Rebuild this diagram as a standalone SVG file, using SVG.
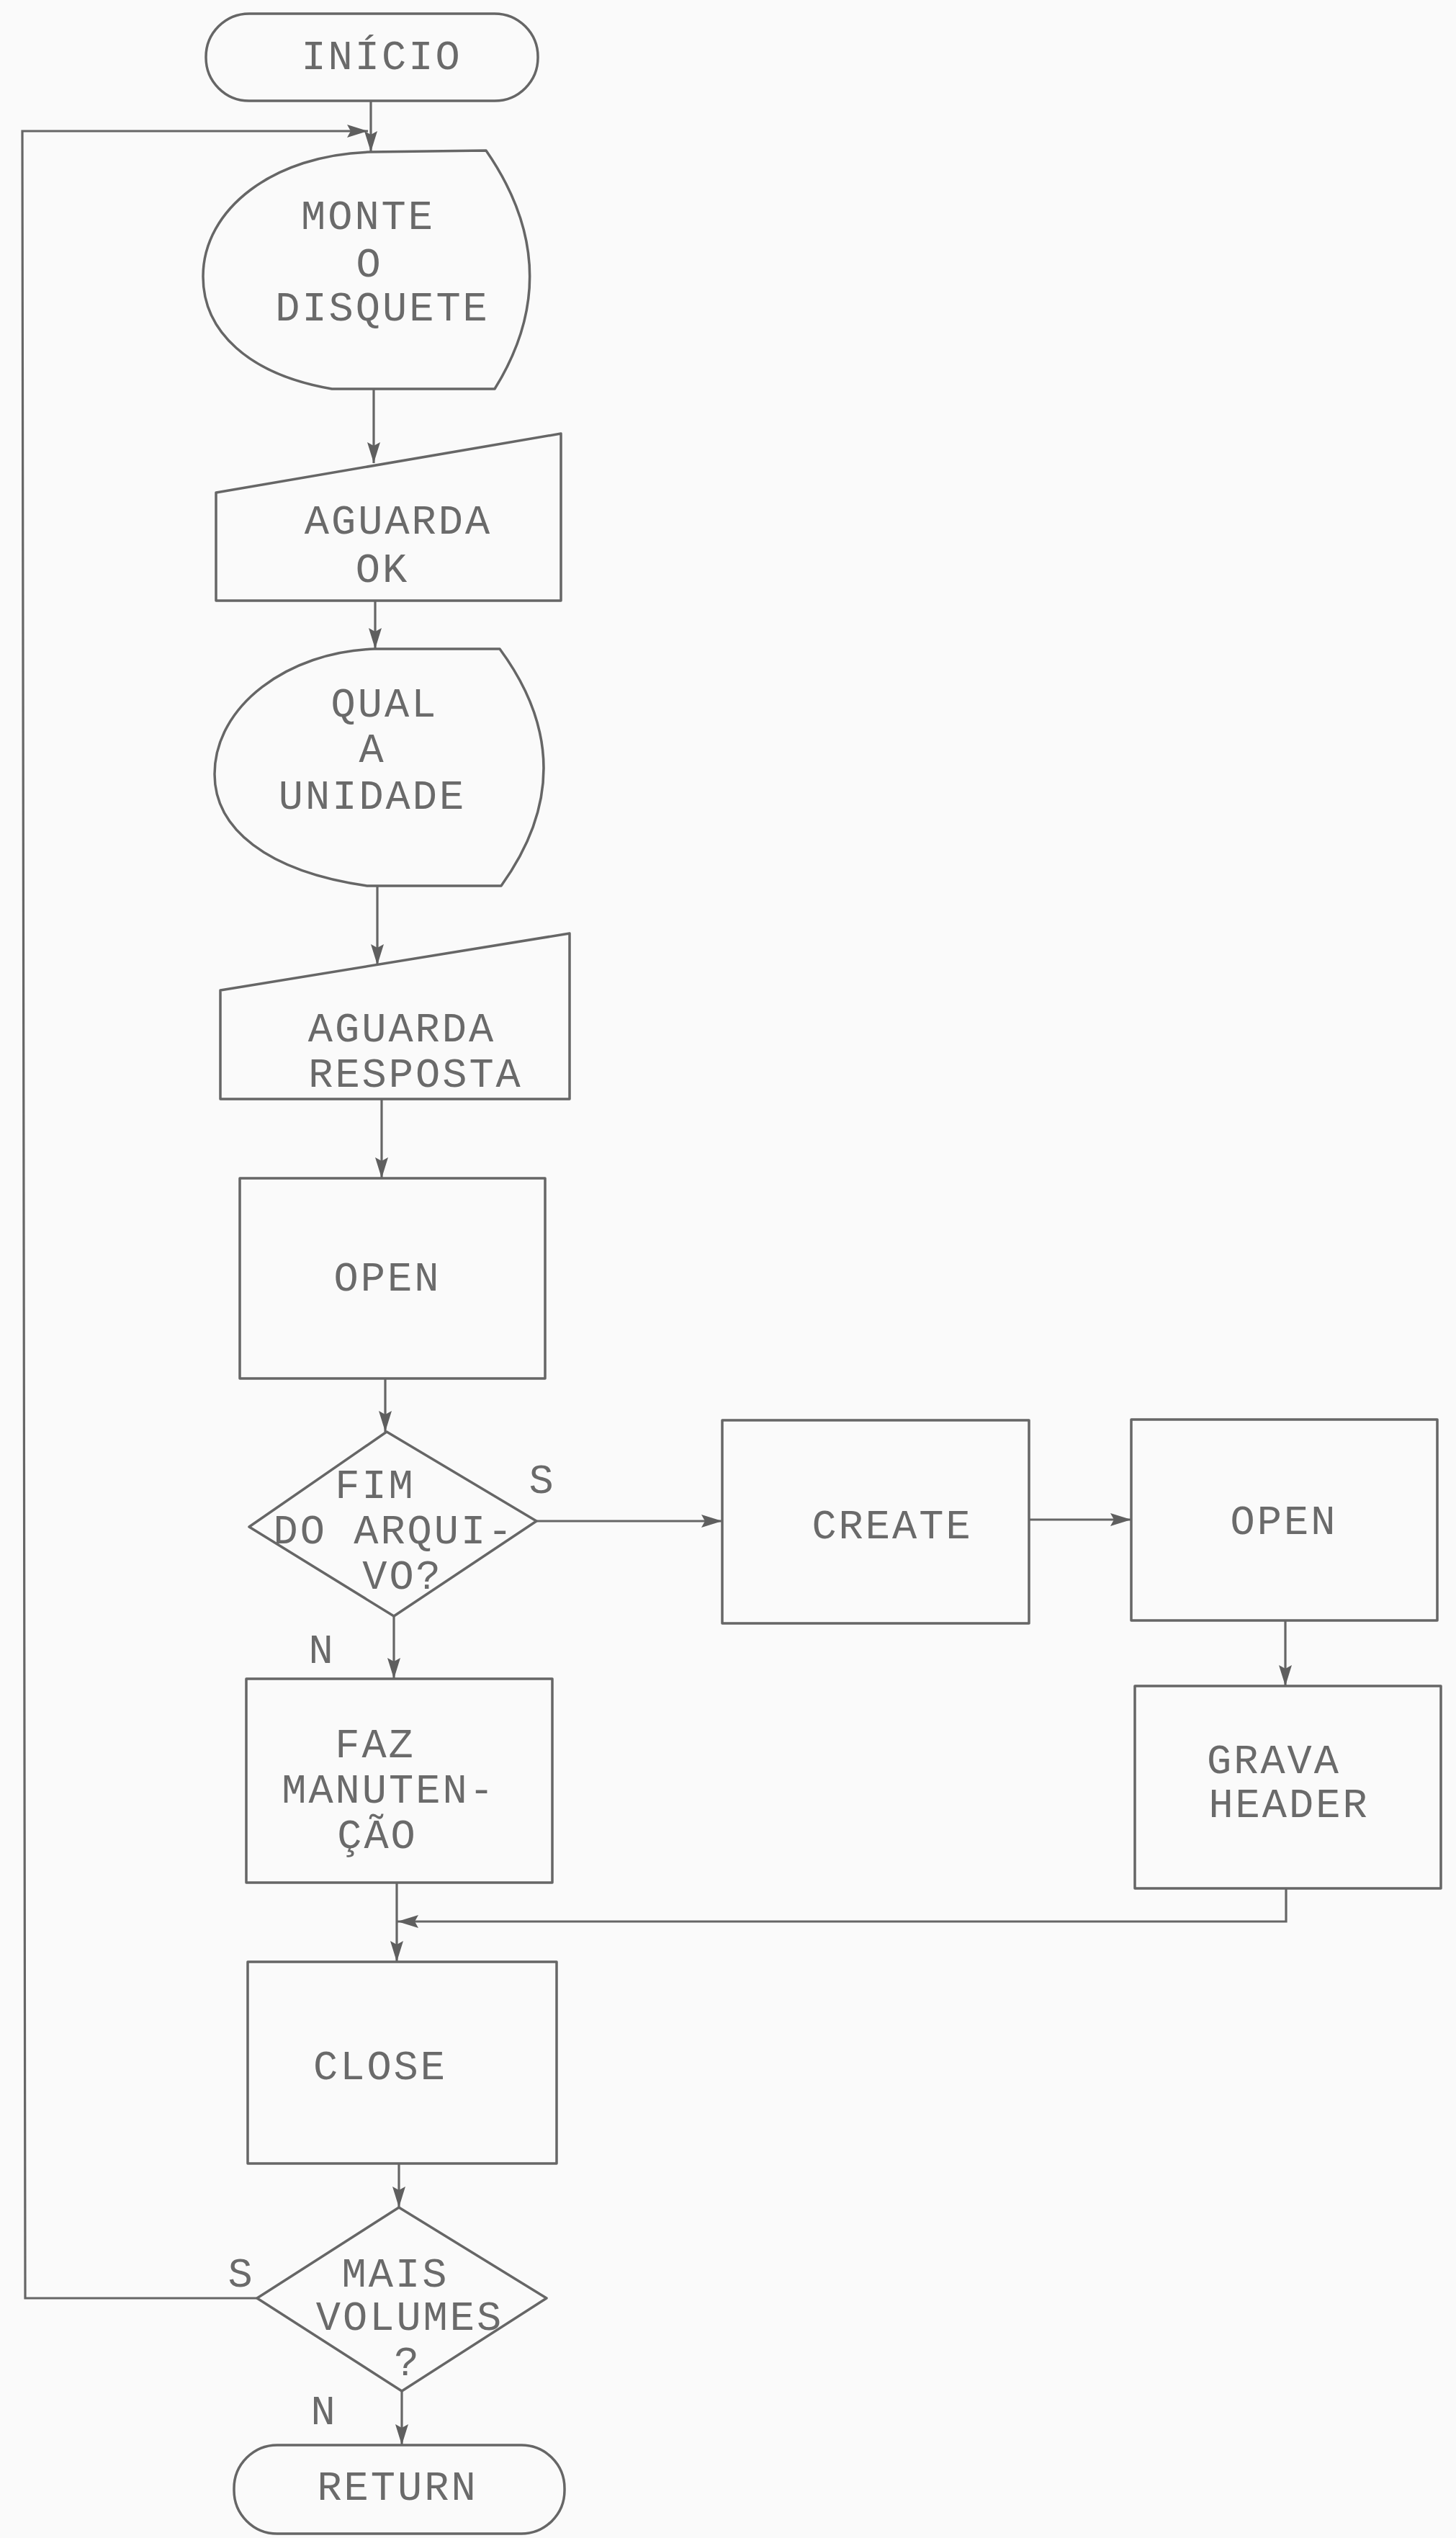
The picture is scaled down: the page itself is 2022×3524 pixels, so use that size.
<svg xmlns="http://www.w3.org/2000/svg" width="2022" height="3524" viewBox="0 0 2022 3524">
<defs>
<marker id="arr" markerUnits="userSpaceOnUse" markerWidth="30" markerHeight="24" viewBox="0 0 30 24" refX="29" refY="12" orient="auto">
<path d="M0,3 L29,12 L0,21 L5,12 Z" fill="#5f5f5f"/>
</marker>
<style>
.s{fill:none;stroke:#666;stroke-width:3.5;stroke-linejoin:round}
.c{fill:none;stroke:#666;stroke-width:3.2}
.t{font-family:"Liberation Mono","Courier New",monospace;font-size:57px;letter-spacing:3px;fill:#6a6a6a;text-anchor:middle}
</style>
</defs>
<rect width="2022" height="3524" fill="#fafafa"/>
<g id="connectors">
<line class="c" x1="515" y1="140" x2="515" y2="211" marker-end="url(#arr)"/>
<polyline class="c" points="357,3191 35,3191 31,182 511,182" marker-end="url(#arr)"/>
<line class="c" x1="519" y1="540" x2="519" y2="643" marker-end="url(#arr)"/>
<line class="c" x1="521" y1="834" x2="521" y2="901" marker-end="url(#arr)"/>
<line class="c" x1="524" y1="1230" x2="524" y2="1340" marker-end="url(#arr)"/>
<line class="c" x1="530" y1="1526" x2="530" y2="1636" marker-end="url(#arr)"/>
<line class="c" x1="535" y1="1914" x2="535" y2="1988" marker-end="url(#arr)"/>
<line class="c" x1="745" y1="2112" x2="1003" y2="2112" marker-end="url(#arr)"/>
<line class="c" x1="1429" y1="2110" x2="1571" y2="2110" marker-end="url(#arr)"/>
<line class="c" x1="1785" y1="2250" x2="1785" y2="2341" marker-end="url(#arr)"/>
<polyline class="c" points="1786,2622 1786,2668 552,2668" marker-end="url(#arr)"/>
<line class="c" x1="547" y1="2244" x2="547" y2="2331" marker-end="url(#arr)"/>
<line class="c" x1="551" y1="2614" x2="551" y2="2724" marker-end="url(#arr)"/>
<line class="c" x1="554" y1="3004" x2="554" y2="3065" marker-end="url(#arr)"/>
<line class="c" x1="558" y1="3320" x2="558" y2="3395" marker-end="url(#arr)"/>
</g>
<g id="inicio">
<rect class="s" x="286" y="19" width="461" height="121" rx="60"/>
<text class="t" x="530" y="96">INÍCIO</text>
</g>
<g id="monte">
<path class="s" d="M514,211 L675,209 Q790,375 687,540 L461,540 C345,520 282,460 282,384 C282,290 380,215 514,211 Z"/>
<text class="t" x="511" y="318">MONTE</text>
<text class="t" x="513" y="384">O</text>
<text class="t" x="531" y="445">DISQUETE</text>
</g>
<g id="aguarda-ok">
<polygon class="s" points="300,684 779,602 779,834 300,834"/>
<text class="t" x="553" y="741">AGUARDA</text>
<text class="t" x="531" y="808">OK</text>
</g>
<g id="qual">
<path class="s" d="M520,901 L694,901 Q815,1065 696,1230 L510,1230 C370,1210 298,1150 298,1075 C298,980 400,905 520,901 Z"/>
<text class="t" x="534" y="995">QUAL</text>
<text class="t" x="517" y="1058">A</text>
<text class="t" x="517" y="1123">UNIDADE</text>
</g>
<g id="aguarda-resposta">
<polygon class="s" points="306,1375 791,1296 791,1526 306,1526"/>
<text class="t" x="558" y="1446">AGUARDA</text>
<text class="t" x="577" y="1509">RESPOSTA</text>
</g>
<g id="open1">
<rect class="s" x="333" y="1636" width="424" height="278"/>
<text class="t" x="538" y="1792">OPEN</text>
</g>
<g id="fim">
<polygon class="s" points="537,1988 745,2112 547,2244 346,2120"/>
<text class="t" x="521" y="2080">FIM</text>
<text class="t" x="547" y="2143">DO ARQUI-</text>
<text class="t" x="559" y="2206">VO?</text>
<text class="t" x="753" y="2073">S</text>
<text class="t" x="447" y="2309">N</text>
</g>
<g id="create">
<rect class="s" x="1003" y="1972" width="426" height="282"/>
<text class="t" x="1239" y="2136">CREATE</text>
</g>
<g id="open2">
<rect class="s" x="1571" y="1971" width="425" height="279"/>
<text class="t" x="1783" y="2130">OPEN</text>
</g>
<g id="faz">
<rect class="s" x="342" y="2331" width="425" height="283"/>
<text class="t" x="521" y="2440">FAZ</text>
<text class="t" x="540" y="2503">MANUTEN-</text>
<text class="t" x="524" y="2566">ÇÃO</text>
</g>
<g id="grava">
<rect class="s" x="1576" y="2341" width="425" height="281"/>
<text class="t" x="1769" y="2462">GRAVA</text>
<text class="t" x="1790" y="2523">HEADER</text>
</g>
<g id="close">
<rect class="s" x="344" y="2724" width="429" height="280"/>
<text class="t" x="528" y="2887">CLOSE</text>
</g>
<g id="mais">
<polygon class="s" points="554,3065 759,3191 558,3320 357,3191"/>
<text class="t" x="549" y="3175">MAIS</text>
<text class="t" x="569" y="3235">VOLUMES</text>
<text class="t" x="566" y="3298">?</text>
<text class="t" x="335" y="3175">S</text>
<text class="t" x="450" y="3366">N</text>
</g>
<g id="return">
<rect class="s" x="325" y="3395" width="459" height="123" rx="60"/>
<text class="t" x="552" y="3471">RETURN</text>
</g>
</svg>
